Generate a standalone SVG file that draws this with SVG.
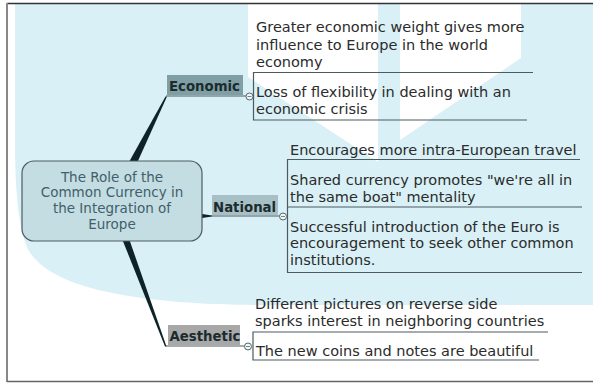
<svg xmlns="http://www.w3.org/2000/svg" width="593" height="383" viewBox="0 0 593 383">
<style>
.t{font-family:"DejaVu Sans",Verdana,sans-serif;font-size:14.5px;fill:#2b2b2b}
.c{font-family:"DejaVu Sans",Verdana,sans-serif;font-size:13.5px;fill:#41606a;text-anchor:middle}
.b{font-family:"DejaVu Sans",Verdana,sans-serif;font-size:13.3px;font-weight:bold;fill:#1c2b2e}
.u{stroke:#4d5b5e;stroke-width:1.2;fill:none}
.w{fill:#0e2327}
.k{fill:#eef6f8;stroke:#56676b;stroke-width:1}
</style>
<rect x="0" y="0" width="593" height="383" fill="#ffffff"/>
<path d="M15,4 L593,4 L593,305 L270,305 C150,305 45,292 26,245 C18,222 15,190 15,140 Z" fill="#d8f0f6"/>
<polygon points="248,4 378,4 378,162 248,77" fill="#ffffff"/>
<polygon points="400,4 521,4 521,58 400,140" fill="#ffffff"/>
<line x1="7" y1="3.5" x2="593" y2="3.5" stroke="#333" stroke-width="1.5"/>
<line x1="7" y1="3" x2="7" y2="382" stroke="#888" stroke-width="2"/>
<line x1="7" y1="381.5" x2="593" y2="381.5" stroke="#666" stroke-width="1.5"/>

<g id="connectors">
<polygon class="w" points="129,162 137.5,162 167,96.5 165.5,96.5"/>
<polygon class="w" points="122.5,240 129.5,240 166.5,346.5 165,346.5"/>
<polygon class="w" points="202,214 202,218 212,216.6 212,215.6"/>
<line class="u" x1="166" y1="96" x2="246" y2="96"/>
<line class="u" x1="210" y1="216" x2="280" y2="216"/>
<line class="u" x1="166" y1="346" x2="245" y2="346"/>
<path class="u" d="M533,72.5 H253.5 V120 H527"/>
<path class="u" d="M580,159.5 H287.5 V272.5 H582 M287.5,207 H582"/>
<path class="u" d="M548,332 H253 V360 H539"/>
</g>

<g id="central">
<rect x="22" y="161" width="180" height="80" rx="12" fill="#c3dde3" stroke="#4e5d61" stroke-width="1.2"/>
<text class="c" x="112" y="181.5">The Role of the</text>
<text class="c" x="112" y="197">Common Currency in</text>
<text class="c" x="112" y="213">the Integration of</text>
<text class="c" x="112" y="229">Europe</text>
</g>

<g id="economic">
<rect x="167" y="75" width="76" height="20" fill="#7f9fa5"/>
<text class="b" x="169" y="90.7">Economic</text>
<circle class="k" cx="249.5" cy="96.5" r="3.5"/>
<line x1="247.5" y1="96.5" x2="251.5" y2="96.5" stroke="#56676b" stroke-width="0.8"/>
</g>
<g id="economic-1">
<text class="t" x="256" y="32">Greater economic weight gives more</text>
<text class="t" x="256" y="49.5">influence to Europe in the world</text>
<text class="t" x="256" y="67">economy</text>
</g>
<g id="economic-2">
<text class="t" x="256" y="97">Loss of flexibility in dealing with an</text>
<text class="t" x="256" y="114">economic crisis</text>
</g>

<g id="national">
<rect x="212" y="195" width="66" height="20" fill="#a7c0c5"/>
<text class="b" x="213" y="211.7">National</text>
<circle class="k" cx="283" cy="216.5" r="3.5"/>
<line x1="281" y1="216.5" x2="285" y2="216.5" stroke="#56676b" stroke-width="0.8"/>
</g>
<g id="national-1">
<text class="t" x="290" y="154.5">Encourages more intra-European travel</text>
</g>
<g id="national-2">
<text class="t" x="290" y="185">Shared currency promotes "we're all in</text>
<text class="t" x="290" y="201.5">the same boat" mentality</text>
</g>
<g id="national-3">
<text class="t" x="290" y="231.5">Successful introduction of the Euro is</text>
<text class="t" x="290" y="248">encouragement to seek other common</text>
<text class="t" x="290" y="265">institutions.</text>
</g>

<g id="aesthetic">
<rect x="168" y="325" width="72" height="20" fill="#a8a8a8"/>
<text class="b" x="169.5" y="340.7">Aesthetic</text>
<circle class="k" cx="248" cy="346.5" r="3.5"/>
<line x1="246" y1="346.5" x2="250" y2="346.5" stroke="#56676b" stroke-width="0.8"/>
</g>
<g id="aesthetic-1">
<text class="t" x="255" y="308.5">Different pictures on reverse side</text>
<text class="t" x="255" y="325.5">sparks interest in neighboring countries</text>
</g>
<g id="aesthetic-2">
<text class="t" x="256" y="355.5">The new coins and notes are beautiful</text>
</g>
</svg>
